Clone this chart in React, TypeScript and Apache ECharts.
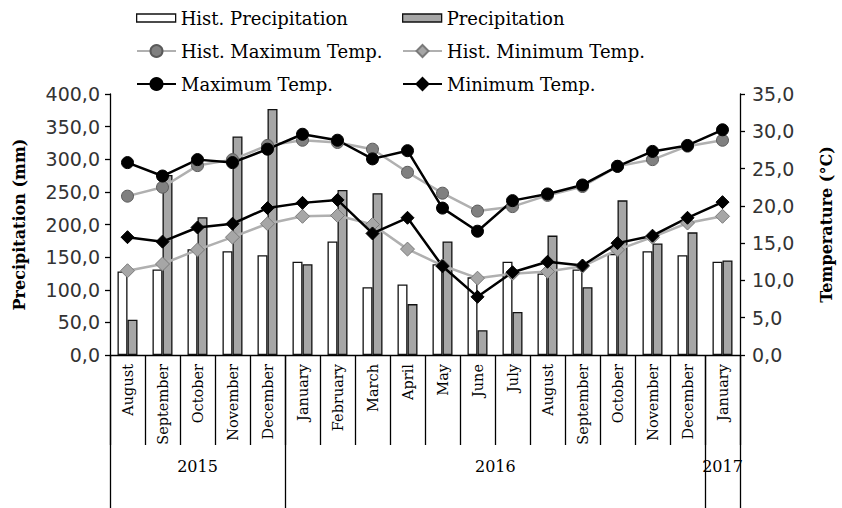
import React, { useEffect, useRef } from "react";
import * as echarts from "echarts";

const months = [
  "August", "September", "October", "November", "December",
  "January", "February", "March", "April", "May", "June", "July",
  "August", "September", "October", "November", "December", "January",
];
const years = ["2015", "2016", "2017"];
const yearFirstMonth = [0, 5, 17];
const yearMonthCount = [5, 12, 1];

const precipTicks = [0, 50, 100, 150, 200, 250, 300, 350, 400];
const tempTicks = [0, 5, 10, 15, 20, 25, 30, 35];

const histPrecip = [128, 131, 162, 159, 153, 143, 174, 104, 108, 139, 119, 143, 125, 131, 155, 159, 153, 143];
const precip = [54, 276, 211, 335, 377, 139, 253, 248, 78, 174, 38, 66, 183, 104, 237, 171, 188, 145];
const histMaxT = [21.3, 22.5, 25.4, 26.2, 28.1, 28.8, 28.5, 27.6, 24.5, 21.7, 19.3, 19.9, 21.4, 22.6, 25.3, 26.2, 28.0, 28.8];
const maxT = [25.8, 24.0, 26.2, 25.8, 27.6, 29.6, 28.8, 26.3, 27.4, 19.7, 16.6, 20.7, 21.6, 22.8, 25.3, 27.3, 28.1, 30.2];
const histMinT = [11.3, 12.2, 14.1, 15.8, 17.6, 18.6, 18.7, 17.5, 14.2, 12.0, 10.3, 10.9, 11.2, 11.9, 14.1, 15.8, 17.7, 18.6];
const minT = [15.8, 15.2, 17.1, 17.6, 19.7, 20.4, 20.8, 16.3, 18.4, 11.9, 7.8, 11.1, 12.5, 12.0, 15.0, 16.0, 18.4, 20.5];

const SERIF = "DejaVu Serif";
const SANS = "DejaVu Sans";

export default function App() {
  const ref = useRef<HTMLDivElement>(null);

  useEffect(() => {
    if (!ref.current) return;
    const chart = echarts.init(ref.current, null, { renderer: "svg" });

    const gridLeft = 110;
    const gridRight = 90;
    const catW = (842 - gridLeft - gridRight) / months.length;

    const yearLabelAt: Record<number, { text: string; shift: boolean }> = {};
    years.forEach((y, k) => {
      const mid = yearFirstMonth[k] + (yearMonthCount[k] - 1) / 2;
      const idx = Math.floor(mid);
      yearLabelAt[idx] = { text: y, shift: mid - idx > 0 };
    });
    const boundaries = new Set(yearFirstMonth);

    const fmt = (v: number) => v.toFixed(1).replace(".", ",");

    const legendText = { fontFamily: SERIF, fontSize: 18, color: "#000" };
    const mkLegend = (name: string, left: number, top: number, h: number, itemStyle?: any) => ({
      data: [name],
      left,
      top,
      padding: 0,
      itemWidth: 39,
      itemHeight: h,
      itemGap: 4,
      textStyle: legendText,
      ...(itemStyle ? { itemStyle, icon: "rect" } : {}),
    });

    const option: any = {
      animation: false,
      backgroundColor: "#fff",
      textStyle: { fontFamily: SERIF },
      legend: [
        mkLegend("Hist. Precipitation", 136, 9, 8, { color: "#fff", borderColor: "#111", borderWidth: 1.3 }),
        mkLegend("Precipitation", 402, 9, 8, { color: "#a6a6a6", borderColor: "#111", borderWidth: 1.3 }),
        mkLegend("Hist. Maximum Temp.", 136, 42, 15),
        mkLegend("Hist. Minimum Temp.", 402, 42, 15),
        mkLegend("Maximum Temp.", 136, 75, 15),
        mkLegend("Minimum Temp.", 402, 75, 15),
      ],
      grid: { left: gridLeft, right: gridRight, top: 94, bottom: 153 },
      xAxis: [
        {
          type: "category",
          data: months,
          position: "bottom",
          axisLine: { show: true, lineStyle: { color: "#000", width: 1.3 } },
          axisTick: { show: true, length: 90, interval: 0, lineStyle: { color: "#000", width: 1.3 } },
          axisLabel: {
            interval: 0,
            rotate: 90,
            margin: 9,
            fontFamily: SERIF,
            fontSize: 14.5,
            color: "#000",
          },
        },
        {
          type: "category",
          data: months,
          position: "bottom",
          axisLine: { show: false },
          axisTick: {
            show: true,
            length: 153,
            interval: (i: number) => boundaries.has(i),
            lineStyle: { color: "#000", width: 1.3 },
          },
          axisLabel: {
            interval: (i: number) => i in yearLabelAt,
            margin: 103,
            formatter: (_v: string, i: number) => {
              const y = yearLabelAt[i];
              if (!y) return "";
              return y.shift ? `{s|${y.text}}` : `{n|${y.text}}`;
            },
            rich: {
              n: { fontFamily: SERIF, fontSize: 16, color: "#000" },
              s: { fontFamily: SERIF, fontSize: 16, color: "#000", padding: [0, 0, 0, catW] },
            },
          },
        },
      ],
      yAxis: [
        {
          type: "value",
          position: "left",
          min: precipTicks[0],
          max: precipTicks[precipTicks.length - 1],
          interval: precipTicks[1] - precipTicks[0],
          splitLine: { show: false },
          axisLine: { show: true, lineStyle: { color: "#000", width: 1.3 } },
          axisTick: { show: true, length: 5, lineStyle: { color: "#000", width: 1.3 } },
          axisLabel: { formatter: fmt, fontFamily: SANS, fontSize: 19, color: "#333", margin: 10 },
          name: "Precipitation (mm)",
          nameLocation: "middle",
          nameRotate: 90,
          nameGap: 83,
          nameTextStyle: { fontFamily: SERIF, fontWeight: "bold", fontSize: 16, color: "#000" },
        },
        {
          type: "value",
          position: "right",
          min: tempTicks[0],
          max: tempTicks[tempTicks.length - 1],
          interval: tempTicks[1] - tempTicks[0],
          splitLine: { show: false },
          axisLine: { show: true, lineStyle: { color: "#000", width: 1.3 } },
          axisTick: { show: true, length: 5, lineStyle: { color: "#000", width: 1.3 } },
          axisLabel: { formatter: fmt, fontFamily: SANS, fontSize: 19, color: "#333", margin: 12 },
          name: "Temperature (°C)",
          nameLocation: "middle",
          nameRotate: 90,
          nameGap: 78,
          nameTextStyle: { fontFamily: SERIF, fontWeight: "bold", fontSize: 16, color: "#000" },
        },
      ],
      series: [
        {
          name: "Hist. Precipitation",
          type: "bar",
          data: histPrecip,
          barWidth: 10,
          barGap: "0%",
          itemStyle: { color: "#fff", borderColor: "#111", borderWidth: 1.3 },
        },
        {
          name: "Precipitation",
          type: "bar",
          data: precip,
          barWidth: 10,
          barGap: "0%",
          itemStyle: { color: "#a6a6a6", borderColor: "#111", borderWidth: 1.3 },
        },
        {
          name: "Hist. Maximum Temp.",
          type: "line",
          yAxisIndex: 1,
          data: histMaxT,
          symbol: "circle",
          symbolSize: 12,
          lineStyle: { color: "#b0b0b0", width: 2.5 },
          itemStyle: { color: "#808080", borderColor: "#5a5a5a", borderWidth: 1 },
        },
        {
          name: "Hist. Minimum Temp.",
          type: "line",
          yAxisIndex: 1,
          data: histMinT,
          symbol: "diamond",
          symbolSize: 14,
          lineStyle: { color: "#b0b0b0", width: 2.5 },
          itemStyle: { color: "#a6a6a6", borderColor: "#7a7a7a", borderWidth: 1 },
        },
        {
          name: "Maximum Temp.",
          type: "line",
          yAxisIndex: 1,
          data: maxT,
          symbol: "circle",
          symbolSize: 12,
          lineStyle: { color: "#000", width: 2.5 },
          itemStyle: { color: "#000", borderColor: "#000", borderWidth: 1 },
        },
        {
          name: "Minimum Temp.",
          type: "line",
          yAxisIndex: 1,
          data: minT,
          symbol: "diamond",
          symbolSize: 13,
          lineStyle: { color: "#000", width: 2.5 },
          itemStyle: { color: "#000", borderColor: "#000", borderWidth: 1 },
        },
      ],
    };

    chart.setOption(option);
    return () => chart.dispose();
  }, []);

  return (
    <div
      ref={ref}
      style={{ position: "fixed", left: 0, top: 0, width: 842, height: 508, background: "#fff" }}
    />
  );
}
